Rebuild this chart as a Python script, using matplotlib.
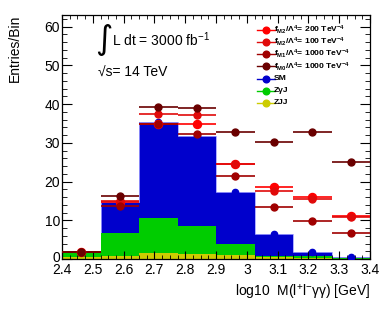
import numpy as np
import matplotlib
matplotlib.use("Agg")
import matplotlib.pyplot as plt
from matplotlib.lines import Line2D
from matplotlib.ticker import MultipleLocator
from matplotlib.transforms import ScaledTranslation

# === fonts (Helvetica-like) ===
plt.rcParams["font.family"] = ["Liberation Sans", "DejaVu Sans"]
plt.rcParams["mathtext.fontset"] = "custom"
plt.rcParams["mathtext.rm"] = "Liberation Sans"
plt.rcParams["mathtext.default"] = "regular"

# === data ===
bin_edges = [2.4, 2.525, 2.65, 2.775, 2.9, 3.025, 3.15, 3.275, 3.4]
bin_centers = [2.4625, 2.5875, 2.7125, 2.8375, 2.9625, 3.0875, 3.2125, 3.3375]

sm = [1.7, 14.8, 35.5, 31.8, 17.4, 6.5, 1.7, 0.4]
zgj = [1.6, 6.8, 10.7, 8.6, 3.9, 0.9, 0.7, 0.15]
zjj = [0.6, 0.8, 1.5, 1.2, 1.0, 0.4, 0.3, 0.1]

fm2_200 = [1.9, 14.6, 34.8, 34.8, 24.6, 18.6, 16.1, 11.1]
fm2_100 = [1.8, 15.0, 37.4, 37.2, 24.4, 17.6, 15.6, 10.8]
fm1_1000 = [1.7, 13.7, 34.9, 32.2, 21.5, 13.4, 9.8, 6.8]
fm0_1000 = [1.8, 16.3, 39.2, 39.0, 32.9, 30.3, 32.8, 25.0]

labels = [
    "f$_{M2}$/Λ$^{4}$= 200 TeV$^{-4}$",
    "f$_{M2}$/Λ$^{4}$= 100 TeV$^{-4}$",
    "f$_{M1}$/Λ$^{4}$= 1000 TeV$^{-4}$",
    "f$_{M0}$/Λ$^{4}$= 1000 TeV$^{-4}$",
    "SM",
    "ZγJ",
    "ZJJ",
]
colors = ["#ff0000", "#e00a0a", "#a00000", "#6a0000", "#0000cc", "#00cc00", "#cccc00"]

# === figure / axes ===
W, H = 390, 309
fig = plt.figure(figsize=(W / 100, H / 100), dpi=100)
ax = fig.add_axes([62 / W, 50 / H, 308 / W, 244 / H])

# stacked-looking histograms (drawn as overlapping fills)
ax.stairs(sm, bin_edges, fill=True, color="#0000cc", zorder=1)
ax.stairs(sm, bin_edges, color="#a0a0ff", lw=0.6, zorder=1.1)
ax.stairs(zgj, bin_edges, fill=True, color="#00cc00", zorder=1.2)
ax.stairs(zjj, bin_edges, fill=True, color="#cccc00", zorder=1.3)

half = (bin_edges[1] - bin_edges[0]) / 2
series = [fm2_200, fm2_100, fm1_1000, fm0_1000]
sizes = [5.8, 5.0, 5.0, 5.0]
for vals, c, ms in zip(series, colors[:4], sizes):
    ax.errorbar(bin_centers, vals, xerr=half, fmt="o", color=c, ms=ms,
                elinewidth=1.2, capsize=0, zorder=3)
ax.errorbar(bin_centers, sm, xerr=half, fmt="o", color="#0000cc", ms=4.5,
            elinewidth=0.0, capsize=0, zorder=2.5)

# === axes ===
ax.set_xlim(2.4, 3.4)
ax.set_ylim(0, 63)
xt = [2.4, 2.5, 2.6, 2.7, 2.8, 2.9, 3.0, 3.1, 3.2, 3.3, 3.4]
ax.set_xticks(xt)
ax.set_xticklabels(["2.4", "2.5", "2.6", "2.7", "2.8", "2.9", "3", "3.1", "3.2", "3.3", "3.4"])
ax.set_yticks([0, 10, 20, 30, 40, 50, 60])
ax.xaxis.set_minor_locator(MultipleLocator(0.025))
ax.yaxis.set_minor_locator(MultipleLocator(2))
ax.tick_params(which="both", direction="in", top=True, right=True, labelsize=10)
ax.tick_params(axis="y", which="major", length=7, pad=1.5)
ax.tick_params(axis="y", which="minor", length=3.4)
ax.tick_params(axis="x", which="major", length=5.5, pad=3.0)
ax.tick_params(axis="x", which="minor", length=2.7)
for s in ax.spines.values():
    s.set_linewidth(0.9)

# nudge the "0" label up a little so it only touches "2.4"
lab0 = ax.get_yticklabels()[0]
lab0.set_transform(lab0.get_transform() + ScaledTranslation(0, 2.5 / 100, fig.dpi_scale_trans))

fig.text(15 / W, 1 - 15 / H, "Entries/Bin", rotation=90, ha="center", va="top", fontsize=10)
fig.text(370 / W, 1 - 293 / H, "log10  M(l$^{+}$l$^{-}$γγ) [GeV]", ha="right", va="center", fontsize=10)

fig.text(95 / W, 1 - 40 / H, "∫", fontsize=24, ha="left", va="center", family="DejaVu Sans")
fig.text(112 / W, 1 - 46 / H, "L dt = 3000 fb$^{-1}$", ha="left", va="baseline", fontsize=10)
fig.text(98 / W, 1 - 77 / H, "√s= 14 TeV", ha="left", va="baseline", fontsize=10)

# === legend (ROOT-style, fixed row pitch) ===
row0, pitch = 29.8, 12.2
for i, (c, lab) in enumerate(zip(colors, labels)):
    yy = 1 - (row0 + i * pitch) / H
    fig.add_artist(Line2D([257 / W, 275 / W], [yy, yy], color=c, lw=1.0))
    fig.add_artist(Line2D([266 / W], [yy], color=c, marker="o", ms=4.8, lw=0))
    fig.text(273.5 / W, yy, lab, ha="left", va="center", fontsize=6.1, fontweight="bold")

fig.savefig("out.png", dpi=100)
